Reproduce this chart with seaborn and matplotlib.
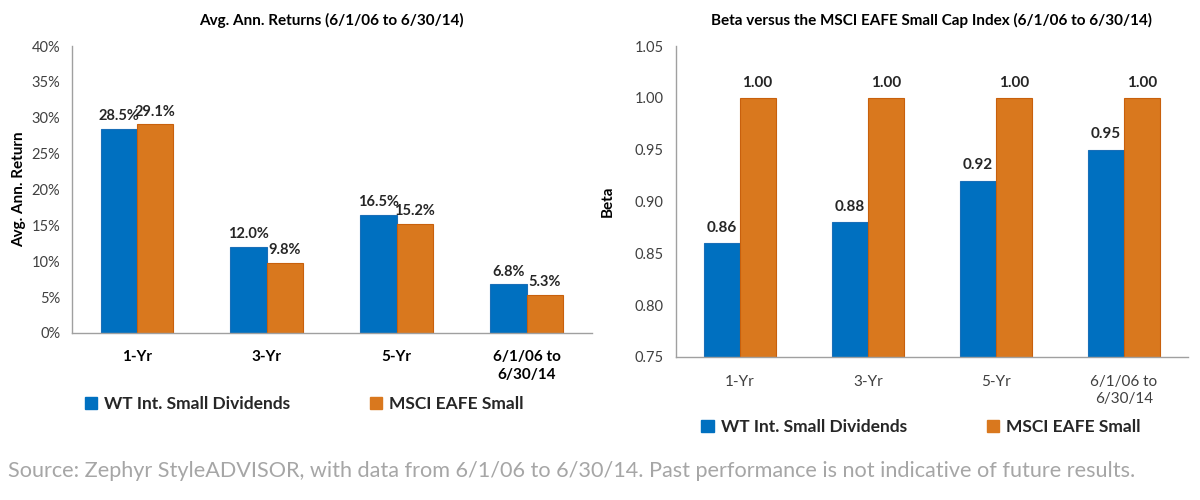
import pandas as pd
import numpy as np
import matplotlib
matplotlib.use("Agg")
import matplotlib.pyplot as plt
import seaborn as sns

# dados
periodos = ["1-Yr", "3-Yr", "5-Yr", "6/1/06 to\n6/30/14"]
series = ["WT Int. Small Dividends", "MSCI EAFE Small"]
retorno_wt = [28.5, 12.0, 16.5, 6.8]
retorno_msci = [29.1, 9.8, 15.2, 5.3]
beta_wt = [0.86, 0.88, 0.92, 0.95]
beta_msci = [1.00, 1.00, 1.00, 1.00]

df_ret = pd.DataFrame({
    "periodo": periodos * 2,
    "serie": [series[0]] * 4 + [series[1]] * 4,
    "valor": retorno_wt + retorno_msci,
})
df_beta = pd.DataFrame({
    "periodo": periodos * 2,
    "serie": [series[0]] * 4 + [series[1]] * 4,
    "valor": beta_wt + beta_msci,
})

sns.set_style("white")
plt.rcParams["font.family"] = ["Lato", "DejaVu Sans"]

cores = {series[0]: "#0070C0", series[1]: "#D9781E"}
bordas = ["#1a6fb8", "#c8600c"]
cinza = "#a0a0a0"
texto = "#404040"

fig = plt.figure(figsize=(12, 5), dpi=100)
ax1 = fig.add_axes([0.06, 0.334, 0.433, 0.574])
ax2 = fig.add_axes([0.563, 0.286, 0.427, 0.622])


def estilo(ax):
    sns.despine(ax=ax)
    for s in ["left", "bottom"]:
        ax.spines[s].set_color(cinza)
        ax.spines[s].set_linewidth(1.0)
    ax.tick_params(axis="both", direction="out", length=5, color=cinza,
                   labelcolor=texto, labelsize=10.5, width=1)
    ax.set_xlabel("")


# grafico da esquerda: retornos
sns.barplot(data=df_ret, x="periodo", y="valor", hue="serie", palette=cores,
            width=0.56, ax=ax1, legend=False, saturation=1)
estilo(ax1)
ax1.set_ylim(0, 40)
ax1.set_yticks(range(0, 41, 5))
ax1.set_yticklabels([f"{v}%" for v in range(0, 41, 5)])
ax1.set_ylabel("Avg. Ann. Return", fontsize=11, fontweight="bold", color="black")
ax1.set_title("Avg. Ann. Returns (6/1/06 to 6/30/14)", fontsize=11,
              fontweight="bold", color="black", pad=15)
ax1.set_xticks(range(4))
ax1.set_xticklabels(periodos, fontweight="bold", color="black", fontsize=11,
                    linespacing=1.4)
ax1.tick_params(axis="x", length=0, pad=12)
ax1.set_xticks([0.5, 1.5, 2.5], minor=True)
ax1.tick_params(axis="x", which="minor", length=5, color=cinza, direction="out")
ax1.set_xlim(-0.5, 3.5)
for i, cont in enumerate(ax1.containers):
    for b in cont:
        b.set_edgecolor(bordas[i])
        b.set_linewidth(0.8)
    ax1.bar_label(cont, fmt="%.1f%%", fontsize=10.5, fontweight="bold", padding=4)

# grafico da direita: beta
sns.barplot(data=df_beta, x="periodo", y="valor", hue="serie", palette=cores,
            width=0.56, ax=ax2, legend=False, saturation=1)
estilo(ax2)
ax2.set_ylim(0.75, 1.05)
ax2.set_yticks(np.arange(0.75, 1.051, 0.05))
ax2.set_yticklabels([f"{v:.2f}" for v in np.arange(0.75, 1.051, 0.05)])
ax2.set_ylabel("Beta", fontsize=11, fontweight="bold", color="black", labelpad=14)
ax2.set_title("Beta versus the MSCI EAFE Small Cap Index (6/1/06 to 6/30/14)",
              fontsize=11, fontweight="bold", color="black", pad=15)
ax2.set_xticks(range(4))
ax2.set_xticklabels(periodos, color=texto, fontsize=11, linespacing=1.3)
ax2.tick_params(axis="x", length=0, pad=13)
ax2.set_xticks([0.5, 1.5, 2.5], minor=True)
ax2.tick_params(axis="x", which="minor", length=5, color=cinza, direction="out")
ax2.set_xlim(-0.5, 3.5)
for i, cont in enumerate(ax2.containers):
    for b in cont:
        b.set_edgecolor(bordas[i])
        b.set_linewidth(0.8)
    ax2.bar_label(cont, fmt="%.2f", fontsize=11, fontweight="bold", padding=6)

# legendas
handles = [plt.Rectangle((0, 0), 1, 1, color=cores[s]) for s in series]
ax1.legend(handles, series, loc="upper left", bbox_to_anchor=(-0.005, -0.165),
           ncol=2, frameon=False, columnspacing=4.6, handlelength=0.7,
           handleheight=0.7, handletextpad=0.4,
           prop={"weight": "bold", "size": 12.5})
ax2.legend(handles, series, loc="upper left", bbox_to_anchor=(0.02, -0.15),
           ncol=2, frameon=False, columnspacing=4.6, handlelength=0.7,
           handleheight=0.7, handletextpad=0.4,
           prop={"weight": "bold", "size": 12.5})

fig.text(0.007, 0.058, "Source: Zephyr StyleADVISOR, with data from 6/1/06 to 6/30/14. "
         "Past performance is not indicative of future results.",
         fontsize=15.6, color="#a6a6a6", ha="left", va="center")

fig.savefig("out.png", dpi=100, facecolor="white")
